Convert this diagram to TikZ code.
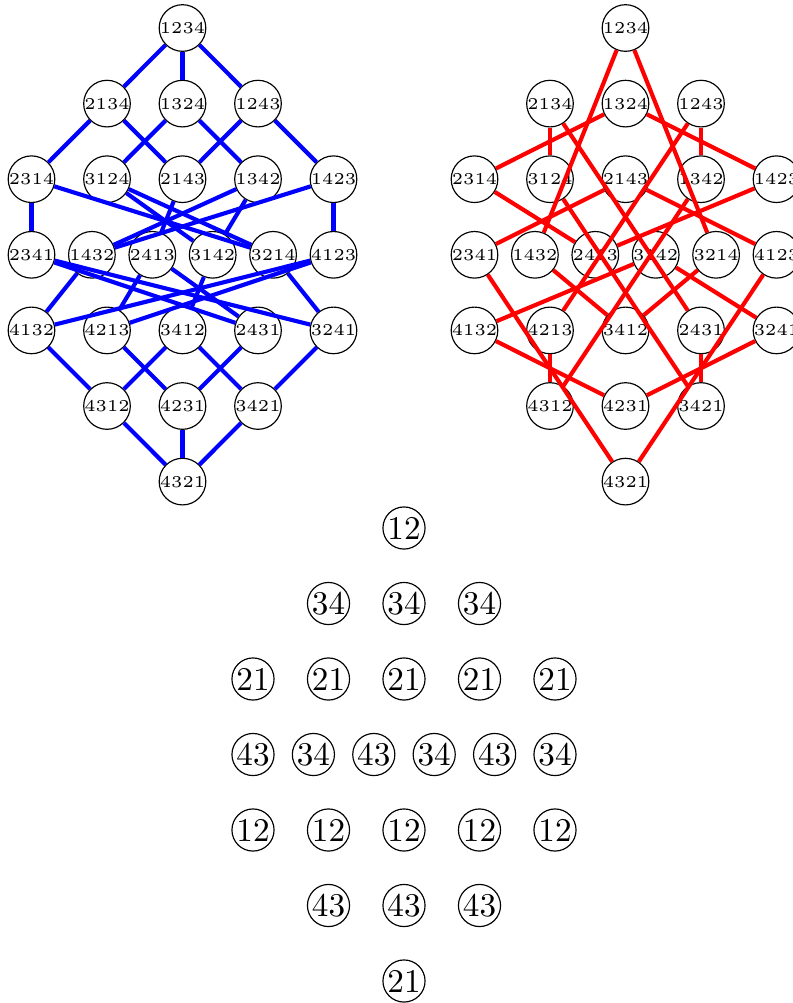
\documentclass[tikz,border=0pt]{standalone}
\tikzset{
  perm/.style={circle,draw=black,line width=0.35pt,minimum size=13pt,inner sep=0pt,font=\tiny},
  cell/.style={circle,draw=black,line width=0.35pt,minimum size=12.7pt,inner sep=0pt,font=\normalsize},
  bluee/.style={draw=blue,line width=1.25pt},
  rede/.style={draw=red,line width=1.25pt},
}
\begin{document}
\begin{tikzpicture}[x=0.30148pt,y=-0.30148pt]
\useasboundingbox (0,0) rectangle (793,1003);
% permutation nodes: name / x offset / row
\foreach \n/\dx/\r in {
  1234/0/0,
  2134/-75.5/1, 1324/0/1, 1243/75.5/1,
  2314/-151/2, 3124/-75.5/2, 2143/0/2, 1342/75.5/2, 1423/151/2,
  2341/-151/3, 1432/-90.6/3, 2413/-30.2/3, 3142/30.2/3, 3214/90.6/3, 4123/151/3,
  4132/-151/4, 4213/-75.5/4, 3412/0/4, 2431/75.5/4, 3241/151/4,
  4312/-75.5/5, 4231/0/5, 3421/75.5/5,
  4321/0/6}{
  \node[perm] (L\n) at ({182.5+\dx},{28+75.6*\r}) {\n};
  \node[perm] (R\n) at ({625.5+\dx},{28+75.6*\r}) {\n};
}
% left graph: weak order
\foreach \a/\b in {
  1234/2134, 1234/1324, 1234/1243,
  2134/2314, 2134/2143, 1324/3124, 1324/1342, 1243/2143, 1243/1423,
  2314/3214, 2314/2341, 3124/3214, 3124/3142, 2143/2413,
  1342/3142, 1342/1432, 1423/4123, 1423/1432,
  2341/3241, 2341/2431, 1432/4132, 2413/4213, 2413/2431,
  3142/3412, 3214/3241, 4123/4213, 4123/4132,
  4132/4312, 4213/4231, 3412/4312, 3412/3421, 2431/4231, 3241/3421,
  4312/4321, 4231/4321, 3421/4321}{
  \draw[bluee] (L\a) -- (L\b);
}
% right graph
\foreach \a/\b in {
  1234/3214, 1234/1432, 2134/3124, 2134/2431, 1324/2314, 1324/1423,
  1243/4213, 1243/1342, 2314/2413, 3124/3421, 2143/4123, 2143/2341,
  1342/4312, 1423/2413, 2341/4321, 1432/3412, 3142/4132, 3142/3241,
  3214/3412, 4123/4321, 4132/4231, 4213/4312, 2431/3421, 3241/4231}{
  \draw[rede] (R\a) -- (R\b);
}
% bottom grid
\foreach \i/\t/\dx/\r in {
  a/12/0/0,
  b/34/-75.5/1, c/34/0/1, d/34/75.5/1,
  e/21/-151/2, f/21/-75.5/2, g/21/0/2, h/21/75.5/2, i/21/151/2,
  j/43/-151/3, k/34/-90.6/3, l/43/-30.2/3, m/34/30.2/3, n/43/90.6/3, o/34/151/3,
  p/12/-151/4, q/12/-75.5/4, r/12/0/4, s/12/75.5/4, t/12/151/4,
  u/43/-75.5/5, v/43/0/5, w/43/75.5/5,
  x/21/0/6}{
  \node[cell] (c\i) at ({404+\dx},{528+75.5*\r}) {\t};
}
\end{tikzpicture}
\end{document}
